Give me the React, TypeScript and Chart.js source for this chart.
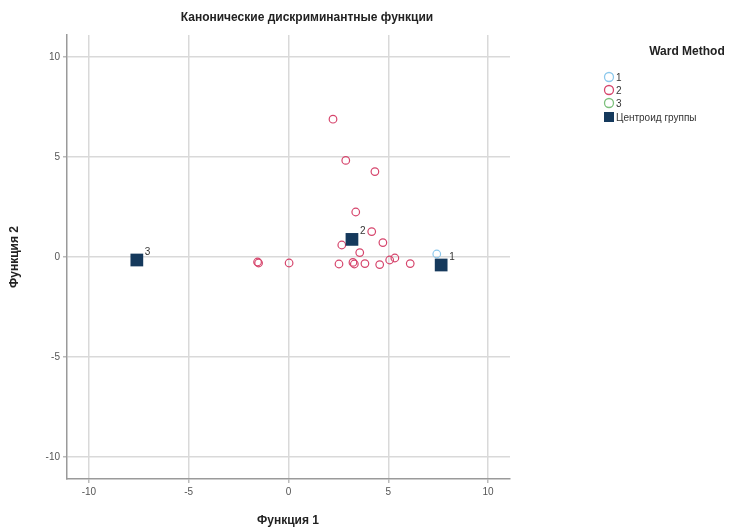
import React, { useEffect, useRef } from "react";
import { Chart, registerables } from "chart.js";

Chart.register(...registerables);

const chartTitle = "Канонические дискриминантные функции";
const xAxisTitle = "Функция 1";
const yAxisTitle = "Функция 2";
const legendTitle = "Ward Method";
const legendLabels = ["1", "2", "3", "Центроид группы"];
const tickValues = [-10, -5, 0, 5, 10];

const group1X = [7.43];
const group1Y = [0.15];

const group2X = [2.23, 2.87, 4.33, 3.37, 4.17, 4.73, 2.67, 3.57, -1.55, -1.5, 0.03, 2.53, 3.23, 3.3, 3.83, 4.57, 5.07, 5.33, 6.1];
const group2Y = [6.89, 4.83, 4.27, 2.25, 1.27, 0.72, 0.6, 0.22, -0.25, -0.3, -0.3, -0.35, -0.27, -0.35, -0.33, -0.38, -0.15, -0.05, -0.33];

const group3X = [-7.6];
const group3Y = [-0.15];

const centroidX = [7.65, 3.18, -7.6];
const centroidY = [-0.4, 0.88, -0.15];
const centroidLabels = ["1", "2", "3"];

const colors = ["#8cc8ec", "#d6456c", "#7cc07c"];
const centroidColor = "#15395c";
const FONT = "'Liberation Sans', Arial, sans-serif";

const pts = (xs: number[], ys: number[]) => xs.map((x, i) => ({ x, y: ys[i] }));

export default function App() {
  const ref = useRef<HTMLCanvasElement | null>(null);
  useEffect(() => {
    if (!ref.current) return;
    const overlay = {
      id: "overlay",
      afterDraw(chart: any) {
        const ctx = chart.ctx;
        const xs = chart.scales.x;
        const ys = chart.scales.y;
        ctx.save();
        // centroid labels
        ctx.fillStyle = "#333";
        ctx.font = `10px ${FONT}`;
        ctx.textAlign = "left";
        ctx.textBaseline = "middle";
        centroidX.forEach((cx, i) => {
          const px = xs.getPixelForValue(cx);
          const py = ys.getPixelForValue(centroidY[i]);
          ctx.fillText(centroidLabels[i], px + 8, py - 8);
        });
        // chart title
        ctx.fillStyle = "#222";
        ctx.font = `bold 12px ${FONT}`;
        ctx.textAlign = "center";
        ctx.fillText(chartTitle, 307, 18);
        // x axis title
        ctx.fillText(xAxisTitle, 288, 521);
        // y axis title
        ctx.save();
        ctx.translate(15, 257);
        ctx.rotate(-Math.PI / 2);
        ctx.fillText(yAxisTitle, 0, 0);
        ctx.restore();
        // legend
        ctx.fillText(legendTitle, 687, 52);
        ctx.font = `10px ${FONT}`;
        ctx.textAlign = "left";
        const rowY = [77, 90, 103, 117];
        for (let i = 0; i < 3; i++) {
          ctx.beginPath();
          ctx.strokeStyle = colors[i];
          ctx.lineWidth = 1.3;
          ctx.arc(609, rowY[i], 4.5, 0, Math.PI * 2);
          ctx.stroke();
          ctx.fillStyle = "#333";
          ctx.fillText(legendLabels[i], 616, rowY[i] + 1);
        }
        ctx.fillStyle = centroidColor;
        ctx.fillRect(604, rowY[3] - 5, 10, 10);
        ctx.fillStyle = "#333";
        ctx.fillText(legendLabels[3], 616, rowY[3] + 1);
        ctx.restore();
      },
    };
    const fitTicks = (scale: any) => {
      scale.ticks = tickValues.map((v) => ({ value: v }));
    };
    const chart = new Chart(ref.current, {
      type: "scatter",
      data: {
        datasets: [
          {
            label: "Центроид группы",
            data: pts(centroidX, centroidY),
            pointStyle: "rect",
            pointRadius: 9,
            backgroundColor: centroidColor,
            borderColor: centroidColor,
            borderWidth: 0,
          },
          {
            label: "1",
            data: pts(group1X, group1Y),
            pointRadius: 3.8,
            backgroundColor: "rgba(0,0,0,0)",
            borderColor: colors[0],
            borderWidth: 1.2,
          },
          {
            label: "2",
            data: pts(group2X, group2Y),
            pointRadius: 3.8,
            backgroundColor: "rgba(0,0,0,0)",
            borderColor: colors[1],
            borderWidth: 1.2,
          },
          {
            label: "3",
            data: pts(group3X, group3Y),
            pointRadius: 3.8,
            backgroundColor: "rgba(0,0,0,0)",
            borderColor: colors[2],
            borderWidth: 1.2,
          },
        ],
      },
      options: {
        animation: false,
        responsive: true,
        maintainAspectRatio: false,
        layout: { padding: { top: 35, right: 234, left: 0, bottom: 0 } },
        plugins: { legend: { display: false }, title: { display: false }, tooltip: { enabled: false } },
        scales: {
          x: {
            type: "linear",
            min: -11.1,
            max: 11.1,
            afterBuildTicks: fitTicks,
            afterFit: (s: any) => { s.height = 52; },
            grid: { color: "#d9d9d9", lineWidth: 1.5, tickLength: 4, tickColor: "#bbbbbb" },
            border: { color: "#9a9a9a", width: 1.5 },
            ticks: { color: "#555", font: { size: 10, family: FONT }, padding: 3 },
          },
          y: {
            type: "linear",
            min: -11.1,
            max: 11.1,
            afterBuildTicks: fitTicks,
            afterFit: (s: any) => { s.width = 67; },
            grid: { color: "#d9d9d9", lineWidth: 1.5, tickLength: 4, tickColor: "#bbbbbb" },
            border: { color: "#9a9a9a", width: 1.5 },
            ticks: { color: "#555", font: { size: 10, family: FONT }, padding: 3 },
          },
        },
      },
      plugins: [overlay],
    });
    return () => chart.destroy();
  }, []);
  return (
    <div style={{ position: "fixed", left: 0, top: 0, width: 744, height: 531, background: "#fff" }}>
      <canvas ref={ref} />
    </div>
  );
}
